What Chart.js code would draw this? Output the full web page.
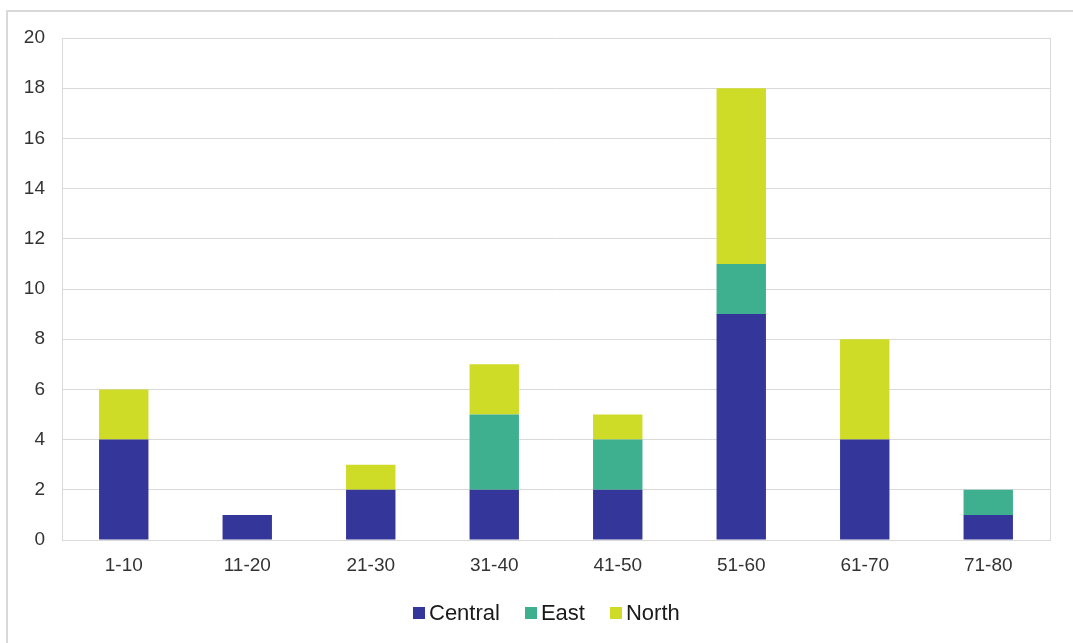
<!DOCTYPE html>
<html>
<head>
<meta charset="utf-8">
<script src="https://cdn.jsdelivr.net/npm/chart.js@4"></script>
<style>
html,body{margin:0;padding:0;background:#fff;}
#wrap{position:relative;width:1073px;height:643px;overflow:hidden;}
#frame{position:absolute;left:6px;top:10px;width:1200px;height:800px;border:2px solid #d9d9d9;box-sizing:border-box;pointer-events:none;}
canvas{position:absolute;left:0;top:0;}
#legend{position:absolute;left:413px;top:600px;height:26px;line-height:26px;white-space:nowrap;
  font-family:'Liberation Sans',Arial,sans-serif;font-size:22px;color:#1a1a1a;}
#legend .item{display:inline-block;margin-right:25px;}
#legend .box{display:inline-block;width:12px;height:12px;margin-right:4px;position:relative;top:-1px;vertical-align:baseline;}
</style>
</head>
<body>
<div id="wrap">
<div id="frame"></div>
<canvas id="c" width="1073" height="643"></canvas>
<div id="legend"></div>
</div>
<script>
const categories = ["1-10","11-20","21-30","31-40","41-50","51-60","61-70","71-80"];
const centralValues = [4,1,2,2,2,9,4,1];
const eastValues = [0,0,0,3,2,2,0,1];
const northValues = [2,0,1,2,1,7,4,0];
const seriesNames = ["Central","East","North"];
const yMin = 0, yMax = 20, yStep = 2;

const colors = ["#35369A","#3FB08F","#CEDC27"];
const gridColor = "#D9D9D9";
const textColor = "#333333";
const fontFamily = "'Liberation Sans', Arial, sans-serif";

const chart = new Chart(document.getElementById('c'), {
  type: 'bar',
  data: {
    labels: categories,
    datasets: [
      {label: seriesNames[0], data: centralValues, backgroundColor: colors[0]},
      {label: seriesNames[1], data: eastValues, backgroundColor: colors[1]},
      {label: seriesNames[2], data: northValues, backgroundColor: colors[2]}
    ]
  },
  options: {
    responsive: false,
    animation: false,
    layout: {padding: {left: 0, top: 38, right: 23, bottom: 52}},
    datasets: {bar: {categoryPercentage: 1, barPercentage: 0.4}},
    scales: {
      x: {
        stacked: true,
        grid: {display: false},
        border: {display: true, color: gridColor, width: 1},
        ticks: {color: textColor, font: {family: fontFamily, size: 19}, padding: 6, maxRotation: 0},
        afterFit: s => { s.height = 51; }
      },
      y: {
        stacked: true,
        min: yMin, max: yMax,
        ticks: {stepSize: yStep, color: textColor, font: {family: fontFamily, size: 19}, padding: 17},
        grid: {color: gridColor, drawTicks: false, lineWidth: 1},
        border: {display: true, color: gridColor, width: 1},
        afterFit: s => { s.width = 62; }
      },
      y2: {
        position: 'right',
        min: yMin, max: yMax,
        ticks: {display: false},
        grid: {display: false, drawTicks: false},
        border: {display: true, color: gridColor, width: 1},
        afterFit: s => { s.width = 0; }
      }
    },
    plugins: {
      legend: {display: false},
      tooltip: {enabled: false}
    }
  }
});

// legend built from the chart's datasets
const legendEl = document.getElementById('legend');
chart.data.datasets.forEach((ds, i) => {
  const item = document.createElement('span');
  item.className = 'item';
  if (i === chart.data.datasets.length - 1) item.style.marginRight = '0';
  const box = document.createElement('span');
  box.className = 'box';
  box.style.background = ds.backgroundColor;
  item.appendChild(box);
  item.appendChild(document.createTextNode(ds.label));
  legendEl.appendChild(item);
});
</script>
</body>
</html>
